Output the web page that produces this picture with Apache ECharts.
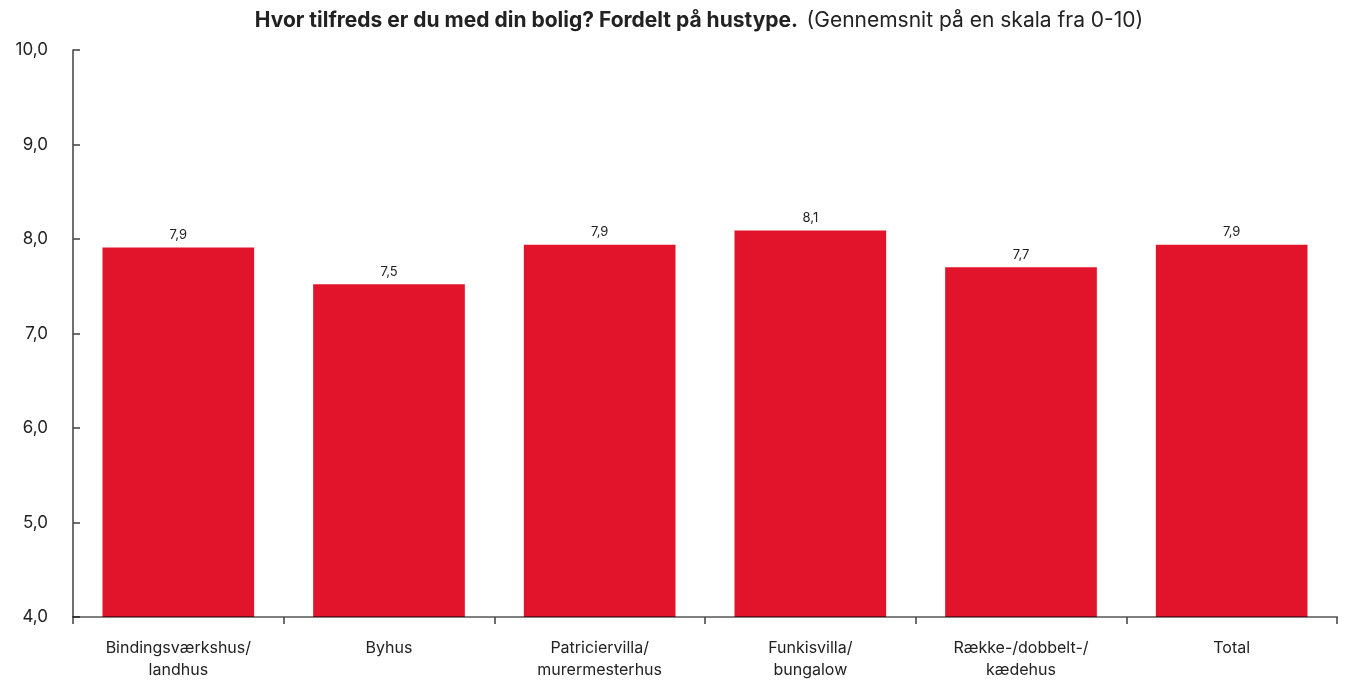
<!DOCTYPE html>
<html>
<head>
<meta charset="utf-8">
<script src="https://cdn.jsdelivr.net/npm/echarts@6/dist/echarts.min.js"></script>
<style>html,body{margin:0;padding:0;background:#fff}#c{width:1346px;height:681px}</style>
</head>
<body>
<div id="c"></div>
<script>
const categories = ['Bindingsværkshus/\nlandhus', 'Byhus', 'Patriciervilla/\nmurermesterhus', 'Funkisvilla/\nbungalow', 'Række-/dobbelt-/\nkædehus', 'Total'];
const values = [7.91, 7.52, 7.94, 8.09, 7.70, 7.94];
const yTicks = { min: 4, max: 10, interval: 1 };
const titleBold = 'Hvor tilfreds er du med din bolig? Fordelt på hustype.';
const titleRegular = '(Gennemsnit på en skala fra 0-10)';

const fmt = v => v.toFixed(1).replace('.', ',');
const chart = echarts.init(document.getElementById('c'), null, { renderer: 'canvas' });
chart.setOption({
  animation: false,
  textStyle: { fontFamily: 'Inter, sans-serif' },
  title: {
    text: '{b|' + titleBold + '}  {r|' + titleRegular + '}',
    left: 694, top: 5, textAlign: 'center',
    textStyle: {
      rich: {
        b: { fontFamily: 'Inter', fontWeight: 'bold', fontSize: 21, color: '#222', letterSpacing: -0.35 },
        r: { fontFamily: 'Inter', fontWeight: 'normal', fontSize: 21, color: '#222', letterSpacing: 0 }
      }
    }
  },
  grid: { left: 73, right: 9, top: 50, bottom: 59, containLabel: false },
  xAxis: {
    type: 'category',
    data: categories,
    z: 5,
    axisLine: { lineStyle: { color: 'rgba(0,0,0,0.5)', width: 2 } },
    axisTick: { show: true, length: 7, alignWithLabel: false, lineStyle: { color: '#404040', width: 1.5 } },
    axisLabel: { color: '#222', fontSize: 16, lineHeight: 22, margin: 20, interval: 0 }
  },
  yAxis: {
    type: 'value',
    min: yTicks.min, max: yTicks.max, interval: yTicks.interval,
    axisLine: { show: true, lineStyle: { color: '#404040', width: 1.5 } },
    axisTick: { show: true, inside: true, length: 7, lineStyle: { color: '#404040', width: 1.5 } },
    splitLine: { show: false },
    axisLabel: { color: '#222', fontSize: 17, margin: 25, formatter: v => fmt(v), verticalAlign: 'middle', padding: [0, 0, 13, 0] }
  },
  series: [{
    type: 'bar',
    data: values,
    barCategoryGap: '28%',
    itemStyle: { color: '#E2142B' },
    label: { show: true, position: 'top', distance: 6, color: '#222', fontSize: 13, formatter: p => fmt(p.value) }
  }]
});
</script>
</body>
</html>
